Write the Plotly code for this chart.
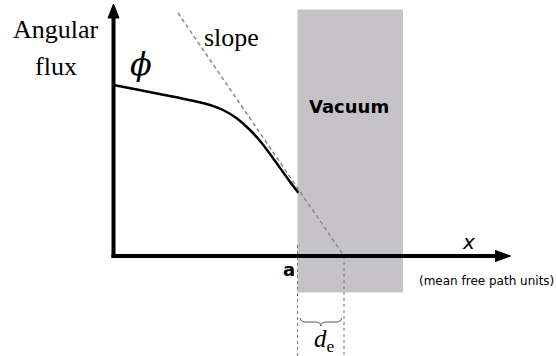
"""Angular flux near a vacuum boundary: extrapolation distance sketch."""
import plotly.graph_objects as go

# ---- Data (diagram units, origin at the axes corner) ----------------
flux_x = [0, 29.8, 63.2, 96.5, 109.5, 123.2, 136.5, 149.8, 163.2, 176.5, 184.8]
flux_y = [171, 165.3, 158.7, 151, 146, 137.7, 126, 111, 92.7, 74.3, 63.3]

slope_x = [64.5, 230.5]
slope_y = [243, 0]

boundary_a = 184          # x of the material edge "a"
extrap_end = 230.5        # a + d_e
vacuum_x = [184, 289.5]
vacuum_y = [-36.5, 246.5]

# ---- Style tokens --------------------------------------------------
INK = "#000000"
VAC = "#c5c3c7"
DASH = "#8a8a8a"
DOT = "#777777"
SERIF = "Liberation Serif, Times New Roman, serif"
SANS = "DejaVu Sans, Verdana, sans-serif"

X_RANGE = [-113.5, 442.5]
Y_RANGE = [-100, 256]

fig = go.Figure()

shapes = [
    # vacuum region
    dict(type="rect", x0=vacuum_x[0], x1=vacuum_x[1], y0=vacuum_y[0], y1=vacuum_y[1],
         fillcolor=VAC, line=dict(width=0), layer="below"),
    # dotted guides for a and a + d_e
    dict(type="line", x0=boundary_a, x1=boundary_a, y0=11, y1=-100,
         line=dict(color=DOT, width=1, dash="dot")),
    dict(type="line", x0=extrap_end, x1=extrap_end, y0=0, y1=-100,
         line=dict(color=DOT, width=1, dash="dot")),
    # axes
    dict(type="line", x0=0, x1=0, y0=-2, y1=240,
         line=dict(color=INK, width=4)),
    dict(type="line", x0=-2, x1=384, y0=0, y1=0,
         line=dict(color=INK, width=4)),
    dict(type="path", path="M -5.5 238 L 0 252 L 5.5 238 Z",
         fillcolor=INK, line=dict(color=INK, width=1)),
    dict(type="path", path="M 382 -5.5 L 397 0 L 382 5.5 Z",
         fillcolor=INK, line=dict(color=INK, width=1)),
    # brace under d_e
    dict(type="path",
         path=("M 186.5 -62 Q 187 -66 192 -66 L 202 -66 Q 207 -66 207.3 -70 "
               "Q 207.6 -66 212.6 -66 L 222.6 -66 Q 227.6 -66 228 -62"),
         line=dict(color="#555555", width=1)),
]

fig.add_trace(go.Scatter(
    x=slope_x, y=slope_y, mode="lines",
    line=dict(color=DASH, width=1.5, dash="4px,3px"),
    hoverinfo="skip", showlegend=False,
))
fig.add_trace(go.Scatter(
    x=flux_x, y=flux_y, mode="lines",
    line=dict(color=INK, width=2.5, shape="spline", smoothing=0.6),
    hoverinfo="skip", showlegend=False,
))


def label(text, x, y, size, family, color=INK, xanchor="center"):
    return dict(text=text, x=x, y=y, xref="x", yref="y", showarrow=False,
                xanchor=xanchor, yanchor="middle",
                font=dict(size=size, family=family, color=color))


annotations = [
    label("Angular", -57.5, 227, 26, SERIF),
    label("flux", -57.5, 190, 26, SERIF),
    label("slope", 117.5, 219, 26, SERIF),
    label("<i>ϕ</i>", 27, 192, 32, "DejaVu Serif, serif"),
    label("<b>Vacuum</b>", 235, 150, 18, SANS),
    label("<b>a</b>", 175.5, -13, 18, SANS),
    label("<i>x</i>", 354.5, 14, 20, SANS),
    label("(mean free path units)", 303.5, -25, 12, SANS, xanchor="left"),
    label("<i>d</i><sub>e</sub>", 210.5, -84, 25, SERIF),
]

fig.update_layout(
    width=556, height=356,
    margin=dict(l=0, r=0, t=0, b=0),
    paper_bgcolor="white", plot_bgcolor="white",
    shapes=shapes, annotations=annotations,
    showlegend=False,
)
fig.update_xaxes(range=X_RANGE, visible=False, fixedrange=True)
fig.update_yaxes(range=Y_RANGE, visible=False, fixedrange=True)

# the page's default 8px body margin would push the sketch off the window
fig.write_html("out.html", config={"displayModeBar": False},
               post_script="document.body.style.margin = '0';")
